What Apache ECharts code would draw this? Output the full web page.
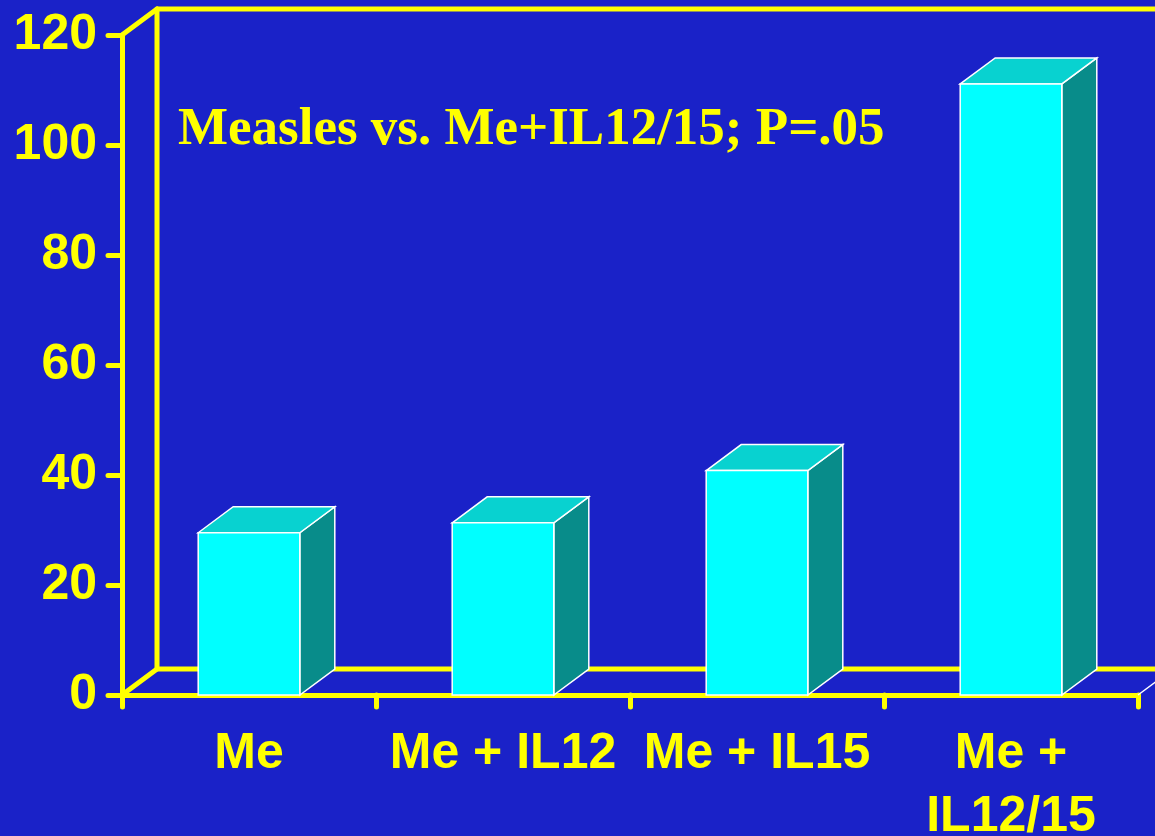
<!DOCTYPE html>
<html>
<head>
<meta charset="utf-8">
<title>Measles vs. Me+IL12/15</title>
<script src="https://cdn.jsdelivr.net/npm/echarts@6/dist/echarts.min.js"></script>
<style>
  html, body { margin: 0; padding: 0; background: #1a22c8; }
  #chart { width: 1155px; height: 836px; }
</style>
</head>
<body>
<div id="chart"></div>
<script>
// Groups and their responses
const categories = ['Me', 'Me + IL12', 'Me + IL15', 'Me +\nIL12/15'];
const responses = [29.5, 31.3, 40.8, 111.1];
const yTicks = [0, 20, 40, 60, 80, 100, 120];
const subtitle = 'Measles vs. Me+IL12/15; P=.05';

const YELLOW = '#ffff00';
const BG = '#1a22c8';
const FRONT = '#00ffff';
const TOP = '#08d2d0';
const SIDE = '#088c8a';
// depth offset of the 3D box (pixels)
const DX = 35, DY = -26;

const chart = echarts.init(document.getElementById('chart'), null, { renderer: 'canvas' });

const yMin = yTicks[0];
const yMax = yTicks[yTicks.length - 1];

function renderFrame(params, api) {
  const band = api.size([1, 0])[0];
  const first = api.coord([0, yMin]);
  const last = api.coord([categories.length - 1, yMin]);
  const top = api.coord([0, yMax]);
  const xl = first[0] - band / 2;
  const xr = last[0] + band / 2;
  const yb = first[1];
  const yt = top[1];
  const ls = { stroke: YELLOW, lineWidth: 5, lineCap: 'round', lineJoin: 'round', fill: null };
  return {
    type: 'group',
    children: [
      // back wall outline and floor
      { type: 'polyline', shape: { points: [[xr + DX, yt + DY], [xl + DX, yt + DY], [xl + DX, yb + DY], [xr + DX, yb + DY]] }, style: ls },
      { type: 'line', shape: { x1: xl, y1: yt, x2: xl + DX, y2: yt + DY }, style: ls },
      { type: 'line', shape: { x1: xl, y1: yb, x2: xl + DX, y2: yb + DY }, style: ls },
      { type: 'line', shape: { x1: xr, y1: yb, x2: xr + DX, y2: yb + DY }, style: { stroke: '#ffffff', lineWidth: 1.5 } }
    ]
  };
}

function renderBar(params, api) {
  const idx = api.value(0);
  const val = api.value(1);
  const band = api.size([1, 0])[0];
  const w = band * 0.4;
  const base = api.coord([idx, yMin]);
  const head = api.coord([idx, val]);
  const x0 = base[0] - w / 2;
  const x1 = base[0] + w / 2;
  const y0 = base[1];
  const y1 = head[1];
  const edge = { stroke: '#ffffff', lineWidth: 1.5, lineJoin: 'miter' };
  return {
    type: 'group',
    children: [
      { type: 'polygon', shape: { points: [[x1, y1], [x1 + DX, y1 + DY], [x1 + DX, y0 + DY], [x1, y0]] }, style: Object.assign({ fill: SIDE }, edge) },
      { type: 'polygon', shape: { points: [[x0, y1], [x0 + DX, y1 + DY], [x1 + DX, y1 + DY], [x1, y1]] }, style: Object.assign({ fill: TOP }, edge) },
      { type: 'polygon', shape: { points: [[x0, y0], [x0, y1], [x1, y1], [x1, y0]] }, style: Object.assign({ fill: FRONT }, edge) }
    ]
  };
}

const labelFont = '"Liberation Sans", Arial, Helvetica, sans-serif';

chart.setOption({
  backgroundColor: BG,
  animation: false,
  grid: { left: 122, right: 17, top: 35, bottom: 141, containLabel: false, outerBoundsMode: 'none' },
  xAxis: {
    type: 'category',
    data: categories,
    boundaryGap: true,
    axisLine: { lineStyle: { color: YELLOW, width: 5, cap: 'round' } },
    axisTick: { show: true, length: 12, lineStyle: { color: YELLOW, width: 5, cap: 'round' } },
    axisLabel: {
      color: YELLOW, fontFamily: labelFont, fontWeight: 'bold', fontSize: 50,
      lineHeight: 63, margin: 28, interval: 0
    },
    splitLine: { show: false }
  },
  yAxis: {
    type: 'value',
    min: yMin, max: yMax, interval: 20,
    axisLine: { show: true, lineStyle: { color: YELLOW, width: 5, cap: 'round' } },
    axisTick: { show: true, length: 14, lineStyle: { color: YELLOW, width: 5, cap: 'round' } },
    axisLabel: {
      color: YELLOW, fontFamily: labelFont, fontWeight: 'bold', fontSize: 50, margin: 25
    },
    splitLine: { show: false }
  },
  graphic: [
    {
      type: 'text', left: 178, top: 104, z: 10,
      style: {
        text: subtitle, fill: YELLOW,
        font: 'bold 53px "Liberation Serif", "Times New Roman", Times, serif'
      }
    }
  ],
  series: [
    {
      type: 'custom', name: 'frame', z: 1, silent: true, clip: false,
      renderItem: renderFrame,
      data: [[0, yMin]]
    },
    {
      type: 'custom', name: 'response', z: 3, clip: false,
      renderItem: renderBar,
      data: responses.map((v, i) => [i, v])
    }
  ]
});
</script>
</body>
</html>
